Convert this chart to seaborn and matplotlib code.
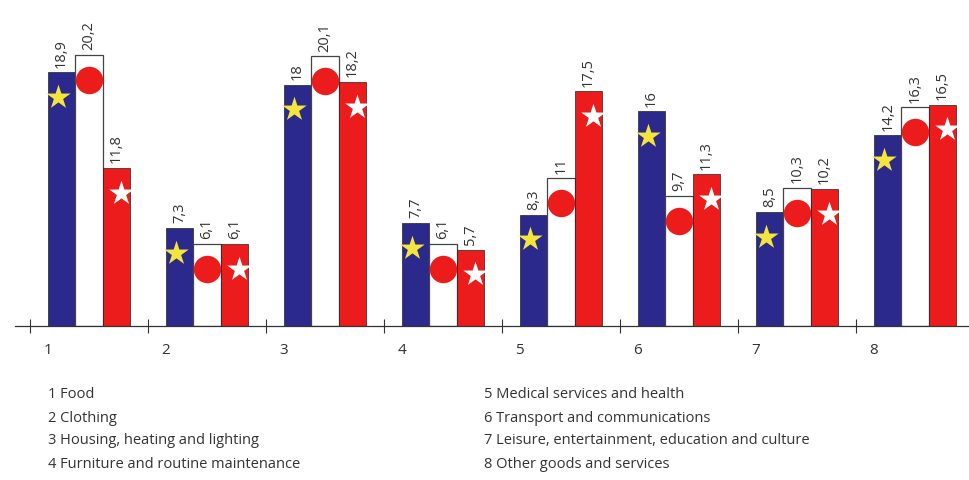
import matplotlib
matplotlib.use("Agg")
import matplotlib.pyplot as plt
import pandas as pd
import seaborn as sns

# Data
categories = ["1", "2", "3", "4", "5", "6", "7", "8"]
category_names = [
    "Food",
    "Clothing",
    "Housing, heating and lighting",
    "Furniture and routine maintenance",
    "Medical services and health",
    "Transport and communications",
    "Leisure, entertainment, education and culture",
    "Other goods and services",
]
series = ["blue", "white", "red"]
blue_values = [18.9, 7.3, 18, 7.7, 8.3, 16, 8.5, 14.2]
white_values = [20.2, 6.1, 20.1, 6.1, 11, 9.7, 10.3, 16.3]
red_values = [11.8, 6.1, 18.2, 5.7, 17.5, 11.3, 10.2, 16.5]

bar_colors = {"blue": "#2b2a8c", "white": "#ffffff", "red": "#ec1c1c"}
# marker, marker colour, horizontal shift within bar (fraction of width)
marker_specs = [("*", "#f4e53c", -0.15), ("o", "#ec1c1c", 0.0), ("*", "#ffffff", 0.18)]
text_color = "#333333"

df = pd.DataFrame({
    "group": categories * 3,
    "series": ["blue"] * 8 + ["white"] * 8 + ["red"] * 8,
    "value": blue_values + white_values + red_values,
})

sns.set_style("white")
plt.rcParams["font.family"] = ["Open Sans", "DejaVu Sans"]

fig = plt.figure(figsize=(9.7, 4.8), dpi=100)
ax = fig.add_axes([15 / 970, (480 - 326) / 480, 955 / 970, 326 / 480])

sns.barplot(data=df, x="group", y="value", hue="series", order=categories,
            hue_order=series, palette=bar_colors, width=0.695, gap=0,
            saturation=1, errorbar=None, legend=False, ax=ax)

for container, name, (marker, mcolor, shift) in zip(ax.containers, series, marker_specs):
    for p in container:
        if name == "white":
            p.set_edgecolor("#444444")
            p.set_linewidth(0.9)
        else:
            p.set_edgecolor("#222222")
            p.set_linewidth(0.5)
        h = p.get_height()
        xc = p.get_x() + p.get_width() / 2
        lab = f"{h:g}".replace(".", ",")
        ax.text(xc, h + 0.35, lab, rotation=90, ha="center", va="bottom",
                fontsize=10.5, color=text_color)
        size = 390 if marker == "o" else 340
        ax.scatter(xc + shift * p.get_width(), h - 1.85, s=size, marker=marker,
                   color=mcolor, linewidths=0, zorder=5)

ax.set_xlim(-0.627, 7.466)
ax.set_ylim(0, 24.3)
ax.set_xticks([i - 0.5 for i in range(len(categories))])
ax.set_xticklabels([""] * len(categories))
ax.set_yticks([])
ax.set_xlabel("")
ax.set_ylabel("")
ax.tick_params(axis="x", bottom=True, direction="inout", length=10, width=0.8,
               color=text_color)
for s in ["left", "top", "right"]:
    ax.spines[s].set_visible(False)
ax.spines["bottom"].set_color(text_color)
ax.spines["bottom"].set_linewidth(0.9)

trans = ax.get_xaxis_transform()
for i, c in enumerate(categories):
    ax.text(i - 0.35, -24 / 326, c, transform=trans, ha="center", va="center",
            fontsize=11, color=text_color)

# key below the chart
for i, (c, name) in enumerate(zip(categories, category_names)):
    col, row = divmod(i, 4)
    x = 48 / 970 if col == 0 else 484 / 970
    y = (480 - 395 - row * 23) / 480
    fig.text(x, y, f"{c} {name}", ha="left", va="center", fontsize=10.5,
             color=text_color)

fig.savefig("out.png", dpi=100)
